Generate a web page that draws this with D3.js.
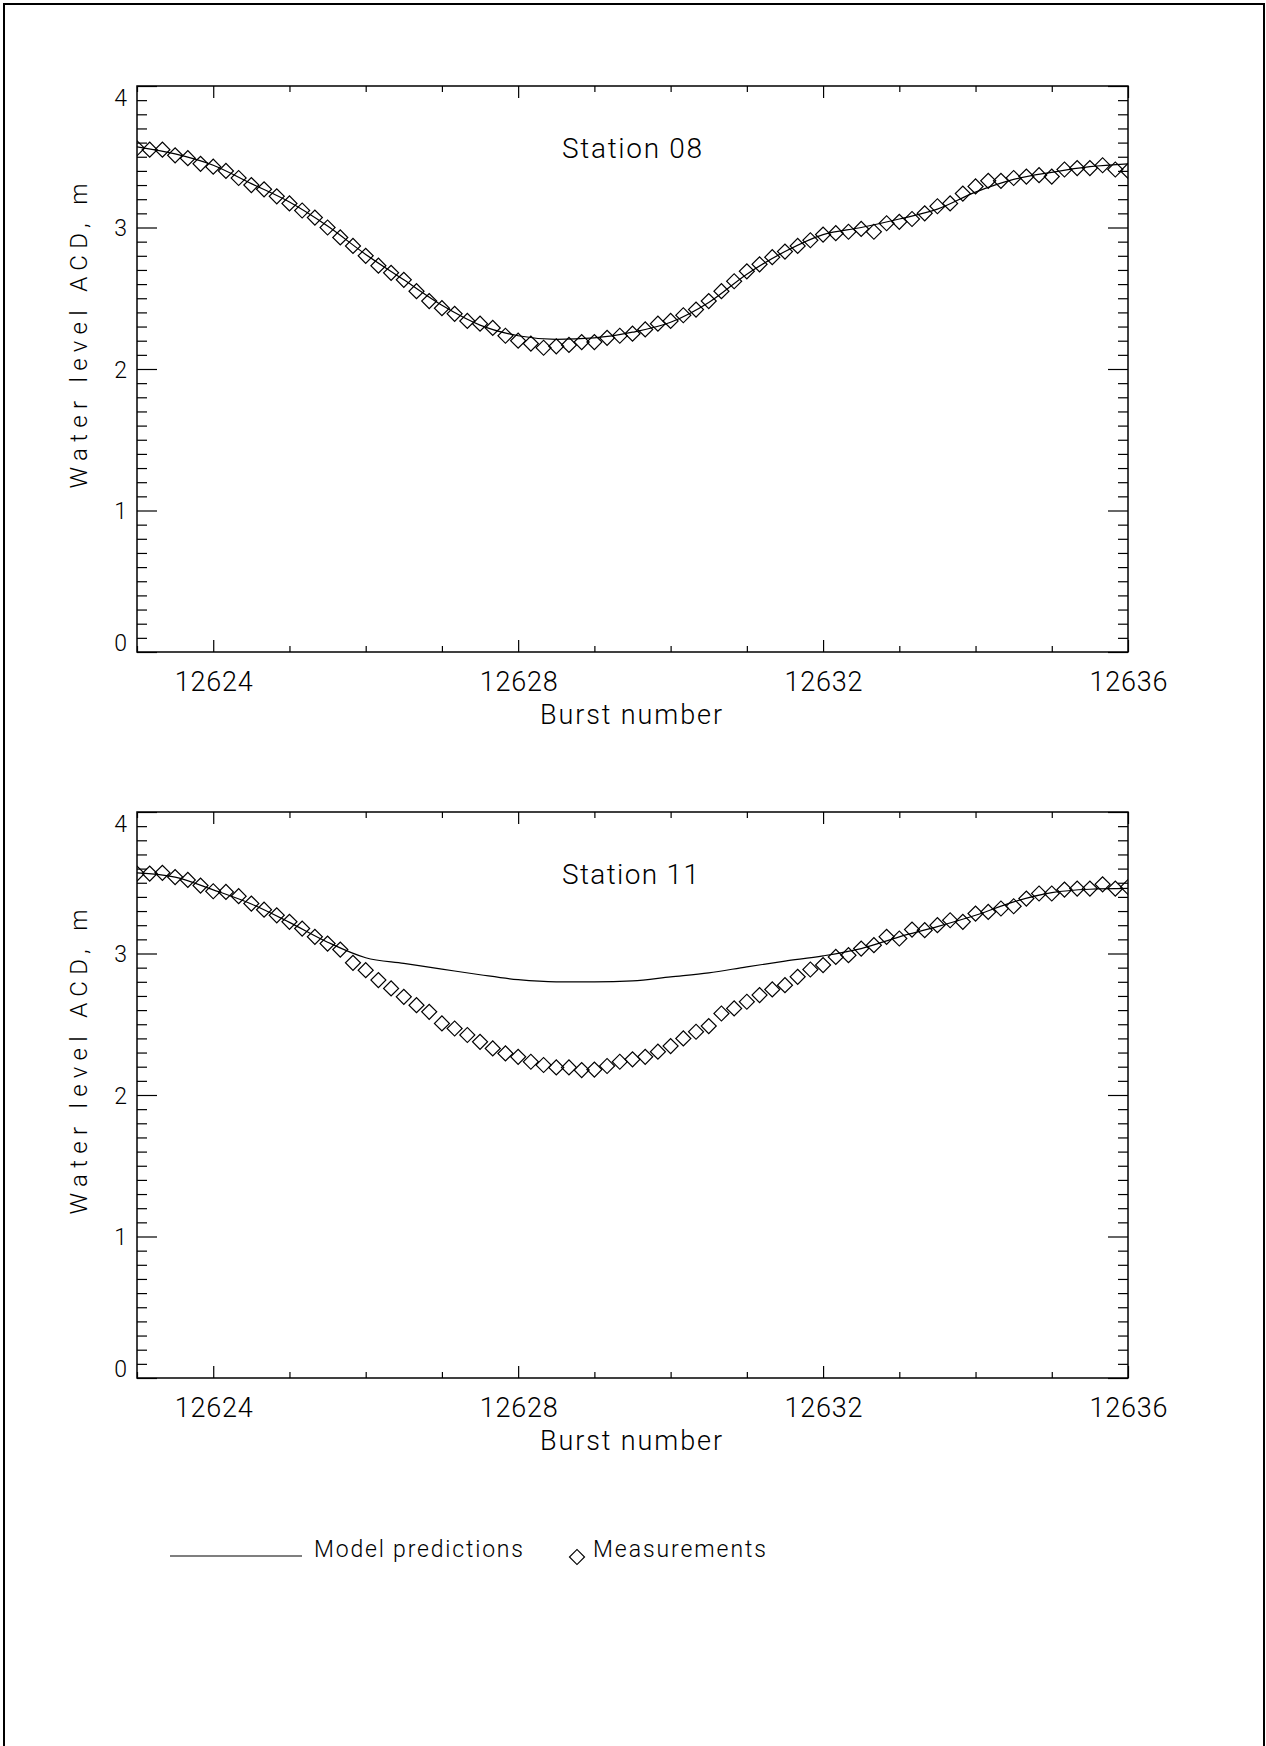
<!DOCTYPE html>
<html>
<head>
<meta charset="utf-8">
<script src="https://cdn.jsdelivr.net/npm/d3@7"></script>
<style>
body { margin: 0; background: #fff; }
svg text { font-family: Roboto, "DejaVu Sans", sans-serif; font-weight: 300; fill: #000; }
.tick line { stroke: #000; stroke-width: 1.2; }
</style>
</head>
<body>
<svg id="chart" width="1266" height="1746"></svg>
<script>

// axis / label data
var xDomain = [12623, 12636];
var yDomain = [0, 4];
var xMajorTicks = [12624, 12628, 12632, 12636];
var yMajorTicks = [0, 1, 2, 3, 4];
var panelTitles = ['Station 08', 'Station 11'];
var xTitle = 'Burst number';
var yTitle = 'Water level ACD, m';
var legendLabels = ['Model predictions', 'Measurements'];

// sample times: measurements every 1/6 burst, model read every 1/2 burst
var measBursts = d3.range(79).map(function(k) { return 12623 + k / 6; });
var modelBursts = d3.range(27).map(function(k) { return 12623 + k / 2; });

// Station 08
var st08Meas = [
    3.56, 3.55, 3.55, 3.51, 3.49, 3.45, 3.43, 3.40, 3.35, 3.30,
    3.27, 3.22, 3.17, 3.12, 3.07, 3.00, 2.93, 2.87, 2.80, 2.73,
    2.68, 2.63, 2.55, 2.48, 2.43, 2.39, 2.34, 2.32, 2.29, 2.235,
    2.20, 2.18, 2.15, 2.16, 2.17, 2.19, 2.19, 2.22, 2.235, 2.25,
    2.28, 2.32, 2.34, 2.38, 2.42, 2.48, 2.55, 2.62, 2.69, 2.74,
    2.79, 2.83, 2.87, 2.91, 2.95, 2.96, 2.97, 2.99, 2.97, 3.03,
    3.04, 3.06, 3.10, 3.15, 3.17, 3.24, 3.29, 3.33, 3.33, 3.35,
    3.36, 3.37, 3.36, 3.41, 3.42, 3.42, 3.44, 3.41, 3.40
];
var st08Model = [
    3.57, 3.52, 3.44, 3.31, 3.18, 3.01, 2.81, 2.63, 2.45, 2.31,
    2.235, 2.21, 2.22, 2.26, 2.33, 2.47, 2.67, 2.83, 2.95, 3.00,
    3.06, 3.13, 3.25, 3.34, 3.39, 3.43, 3.45
];

// Station 11
var st11Meas = [
    3.565, 3.565, 3.57, 3.54, 3.52, 3.48, 3.44, 3.435, 3.405, 3.353,
    3.31, 3.27, 3.224, 3.176, 3.118, 3.07, 3.028, 2.934, 2.882, 2.812,
    2.753, 2.694, 2.635, 2.588, 2.506, 2.47, 2.424, 2.376, 2.329, 2.294,
    2.27, 2.235, 2.212, 2.195, 2.195, 2.176, 2.18, 2.205, 2.235, 2.252,
    2.27, 2.306, 2.346, 2.40, 2.447, 2.487, 2.576, 2.612, 2.659, 2.706,
    2.746, 2.776, 2.835, 2.887, 2.918, 2.976, 2.988, 3.035, 3.059, 3.118,
    3.106, 3.169, 3.165, 3.20, 3.235, 3.224, 3.282, 3.294, 3.318, 3.334,
    3.388, 3.424, 3.424, 3.452, 3.459, 3.459, 3.489, 3.459, 3.47
];
var st11Model = [
    3.57, 3.54, 3.45, 3.35, 3.22, 3.08, 2.97, 2.93, 2.89, 2.85,
    2.815, 2.80, 2.80, 2.807, 2.835, 2.863, 2.906, 2.946, 2.983, 3.035,
    3.118, 3.19, 3.27, 3.365, 3.43, 3.454, 3.46
];

var panels = [
    { title: panelTitles[0], meas: st08Meas, model: st08Model, top: 86 },
    { title: panelTitles[1], meas: st11Meas, model: st11Model, top: 812 }
];

var left = 137, right = 1128, plotH = 566;

var svg = d3.select('#chart');

// page border
svg.append('rect')
    .attr('x', 4).attr('y', 4)
    .attr('width', 1260).attr('height', 1800)
    .attr('fill', 'none').attr('stroke', '#000').attr('stroke-width', 2);

var x = d3.scaleLinear().domain(xDomain).range([left, right]);

var xMinor = d3.range(xDomain[0], xDomain[1] + 1).filter(function(v) { return xMajorTicks.indexOf(v) < 0; });
var yMinor = d3.range(1, 40).map(function(v) { return v / 10; }).filter(function(v) { return v % 1 !== 0; });

function diamond(s) {
    return d3.symbol(d3.symbolSquare, s * s * 2)();
}

function drawPanel(p, i) {
    var top = p.top, bottom = top + plotH;
    var y = d3.scaleLinear().domain(yDomain).range([bottom, top]);
    var g = svg.append('g');

    g.append('clipPath').attr('id', 'clip' + i)
        .append('rect')
        .attr('x', left).attr('y', top)
        .attr('width', right - left).attr('height', plotH);

    // ticks, all pointing inward
    g.append('g').attr('transform', 'translate(0,' + bottom + ')')
        .call(d3.axisBottom(x).tickValues(xMajorTicks).tickSize(-12).tickSizeOuter(0)
            .tickPadding(20).tickFormat(d3.format('d')))
        .call(function(a) {
            a.select('.domain').remove();
            a.selectAll('text').attr('font-size', 27)
                .attr('textLength', 78).attr('lengthAdjust', 'spacing');
        });
    g.append('g').attr('transform', 'translate(0,' + bottom + ')')
        .call(d3.axisBottom(x).tickValues(xMinor).tickSize(-6).tickSizeOuter(0).tickFormat(''))
        .call(function(a) { a.select('.domain').remove(); });
    g.append('g').attr('transform', 'translate(0,' + top + ')')
        .call(d3.axisTop(x).tickValues(xMajorTicks).tickSize(-12).tickSizeOuter(0).tickFormat(''))
        .call(function(a) { a.select('.domain').remove(); });
    g.append('g').attr('transform', 'translate(0,' + top + ')')
        .call(d3.axisTop(x).tickValues(xMinor).tickSize(-6).tickSizeOuter(0).tickFormat(''))
        .call(function(a) { a.select('.domain').remove(); });

    g.append('g').attr('transform', 'translate(' + left + ',0)')
        .call(d3.axisLeft(y).tickValues(yMajorTicks).tickSize(-20).tickSizeOuter(0)
            .tickPadding(10).tickFormat(d3.format('d')))
        .call(function(a) {
            a.select('.domain').remove();
            a.selectAll('text').attr('font-size', 23)
                .attr('dy', function(d) {
                    if (d === yDomain[1]) return '0.85em';
                    if (d === yDomain[0]) return '-0.05em';
                    return '0.35em';
                });
        });
    g.append('g').attr('transform', 'translate(' + left + ',0)')
        .call(d3.axisLeft(y).tickValues(yMinor).tickSize(-10).tickSizeOuter(0).tickFormat(''))
        .call(function(a) { a.select('.domain').remove(); });
    g.append('g').attr('transform', 'translate(' + right + ',0)')
        .call(d3.axisRight(y).tickValues(yMajorTicks).tickSize(-20).tickSizeOuter(0).tickFormat(''))
        .call(function(a) { a.select('.domain').remove(); });
    g.append('g').attr('transform', 'translate(' + right + ',0)')
        .call(d3.axisRight(y).tickValues(yMinor).tickSize(-10).tickSizeOuter(0).tickFormat(''))
        .call(function(a) { a.select('.domain').remove(); });

    // frame
    g.append('rect')
        .attr('x', left).attr('y', top)
        .attr('width', right - left).attr('height', plotH)
        .attr('fill', 'none').attr('stroke', '#000').attr('stroke-width', 1.5);

    var body = g.append('g').attr('clip-path', 'url(#clip' + i + ')');

    var line = d3.line()
        .x(function(d, j) { return x(modelBursts[j]); })
        .y(function(d) { return y(d); })
        .curve(d3.curveMonotoneX);

    body.append('path')
        .datum(p.model)
        .attr('d', line)
        .attr('fill', 'none').attr('stroke', '#000').attr('stroke-width', 1.2);

    body.selectAll('path.meas')
        .data(p.meas)
        .enter().append('path')
            .attr('class', 'meas')
            .attr('d', diamond(7.5))
            .attr('transform', function(d, j) {
                return 'translate(' + x(measBursts[j]) + ',' + y(d) + ') rotate(45)';
            })
            .attr('fill', 'none').attr('stroke', '#000').attr('stroke-width', 1.2);

    g.append('text')
        .attr('x', 562).attr('y', top + 72)
        .attr('font-size', 28)
        .attr('textLength', i === 0 ? 140 : 137).attr('lengthAdjust', 'spacing')
        .text(p.title);

    g.append('text')
        .attr('x', 631).attr('y', bottom + 72)
        .attr('text-anchor', 'middle')
        .attr('font-size', 27)
        .attr('textLength', 182).attr('lengthAdjust', 'spacing')
        .text(xTitle);

    g.append('text')
        .attr('transform', 'translate(87,' + (top + 250) + ') rotate(-90)')
        .attr('text-anchor', 'middle')
        .attr('font-size', 24)
        .attr('textLength', 305).attr('lengthAdjust', 'spacing')
        .text(yTitle);
}

panels.forEach(drawPanel);

// legend
var leg = svg.append('g');
leg.append('line')
    .attr('x1', 170).attr('x2', 302)
    .attr('y1', 1556).attr('y2', 1556)
    .attr('stroke', '#000').attr('stroke-width', 1.2);
leg.append('text')
    .attr('x', 314).attr('y', 1557)
    .attr('font-size', 23)
    .attr('textLength', 209).attr('lengthAdjust', 'spacing')
    .text(legendLabels[0]);
leg.append('path')
    .attr('d', diamond(7.5))
    .attr('transform', 'translate(577,1557) rotate(45)')
    .attr('fill', 'none').attr('stroke', '#000').attr('stroke-width', 1.2);
leg.append('text')
    .attr('x', 593).attr('y', 1557)
    .attr('font-size', 23)
    .attr('textLength', 173).attr('lengthAdjust', 'spacing')
    .text(legendLabels[1]);

</script>
</body>
</html>
